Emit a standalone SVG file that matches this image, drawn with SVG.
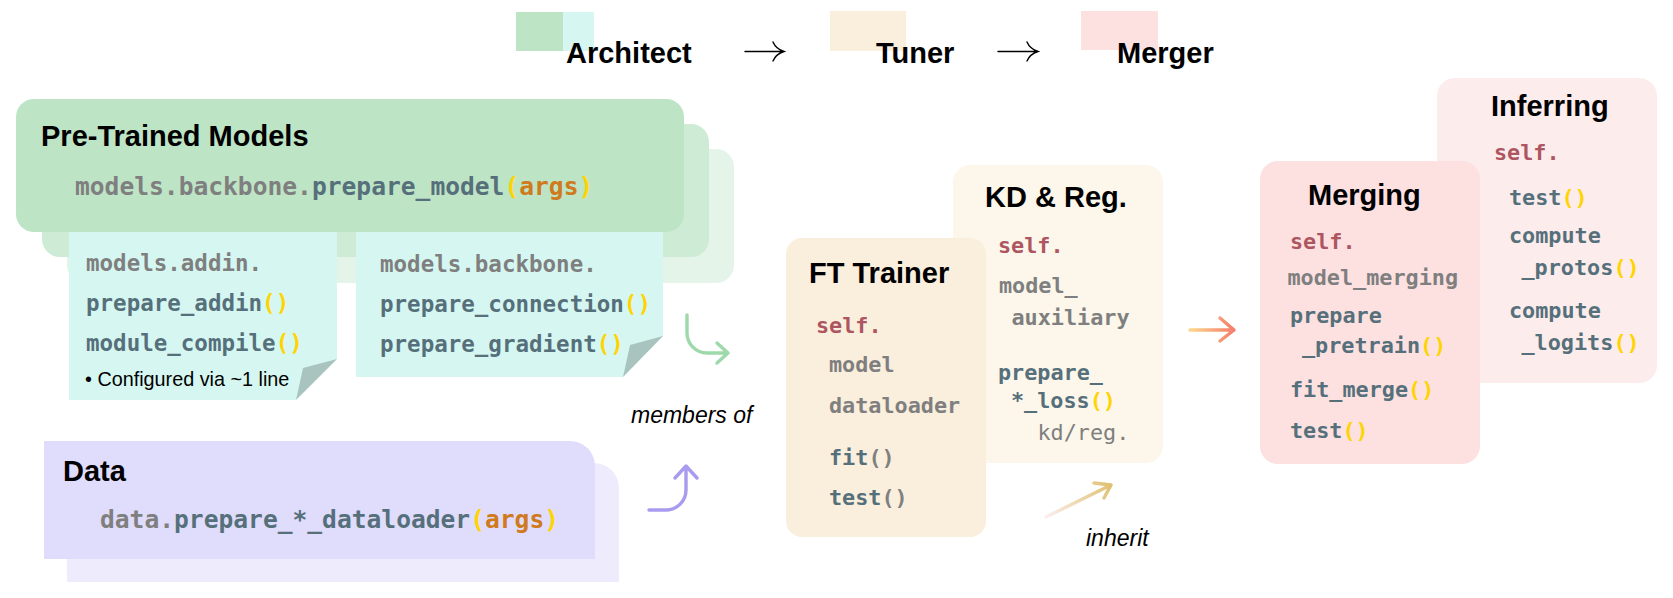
<svg xmlns="http://www.w3.org/2000/svg" width="1673" height="598" viewBox="0 0 1673 598">
<defs>
<style>
.h{font-family:"Liberation Sans",Arial,sans-serif;font-weight:bold;font-size:29px;fill:#000}
.c{font-family:"DejaVu Sans Mono","Liberation Mono",monospace;font-weight:bold}
.c1{font-size:24.6px}
.c2{font-size:22.5px}
.c3{font-size:21.8px}
.n{font-weight:normal}
.g{fill:#7f7f7f}
.s{fill:#56707b}
.y{fill:#ffd400}
.o{fill:#d07a1e}
.r{fill:#ad5560}
.it{font-family:"Liberation Sans",Arial,sans-serif;font-style:italic;font-size:23px;fill:#000}
.note{font-family:"Liberation Sans",Arial,sans-serif;font-size:19.8px;fill:#000}
.arr{fill:none;stroke-width:3.4;stroke-linecap:round;stroke-linejoin:round}
.la{fill:none;stroke:#000;stroke-width:1.4;stroke-linecap:round}
</style>
<linearGradient id="gOr" gradientUnits="userSpaceOnUse" x1="1190" y1="0" x2="1236" y2="0"><stop offset="0" stop-color="#fdd68c"/><stop offset="1" stop-color="#f47a6a"/></linearGradient>
<linearGradient id="gIn" gradientUnits="userSpaceOnUse" x1="1046" y1="517" x2="1112" y2="484"><stop offset="0" stop-color="#fbeeec"/><stop offset="1" stop-color="#dfc070"/></linearGradient>
</defs>
<rect width="1673" height="598" fill="#fff"/>

<g id="legend">
<rect x="516" y="12" width="47" height="39" fill="#bee4c6"/>
<rect x="563" y="12" width="31" height="39" fill="#d6f7f1"/>
<text class="h" x="566" y="63">Architect</text>
<path class="la" d="M745 51.5H783M773 42Q776 49 784 51.5Q776 54 773 61"/>
<rect x="830" y="11" width="76" height="40" fill="#faeedc"/>
<text class="h" x="876" y="63">Tuner</text>
<path class="la" d="M998 51.5H1037M1027 42Q1030 49 1038 51.5Q1030 54 1027 61"/>
<rect x="1081" y="11" width="77" height="39" fill="#fde1e1"/>
<text class="h" x="1117" y="63">Merger</text>
</g>

<g id="pretrained-layers">
<rect x="67" y="149" width="667" height="134" rx="18" fill="#e4f4e9"/>
<rect x="42" y="124" width="667" height="133" rx="18" fill="#cdebd5"/>
</g>

<g id="addin">
<path d="M69 200H337V359L296 400H69Z" fill="#d6f7f1"/>
<path d="M337 359L303 368L296 400Z" fill="#a9c4be"/>
<text class="c c2 g" x="86" y="271">models.addin.</text>
<text class="c c2" x="86" y="311"><tspan class="s">prepare_addin</tspan><tspan class="y">()</tspan></text>
<text class="c c2" x="86" y="351"><tspan class="s">module_compile</tspan><tspan class="y">()</tspan></text>
<text class="note" x="85" y="386">• Configured via ~1 line</text>
</g>

<g id="backbone-fns">
<path d="M356 200H663V336L623 377H356Z" fill="#d6f7f1"/>
<path d="M663 336L630 345L623 377Z" fill="#a9c4be"/>
<text class="c c2 g" x="380" y="272">models.backbone.</text>
<text class="c c2" x="380" y="312"><tspan class="s">prepare_connection</tspan><tspan class="y">()</tspan></text>
<text class="c c2" x="380" y="352"><tspan class="s">prepare_gradient</tspan><tspan class="y">()</tspan></text>
</g>

<g id="pretrained">
<rect x="16" y="99" width="668" height="133" rx="18" fill="#bee4c6"/>
<text class="h" x="41" y="146">Pre-Trained Models</text>
<text class="c c1" x="75" y="195"><tspan class="g">models.backbone.</tspan><tspan class="s">prepare_model</tspan><tspan class="y">(</tspan><tspan class="o">args</tspan><tspan class="y">)</tspan></text>
</g>

<g id="data">
<path d="M67 463H594A25 25 0 0 1 619 488V582H67Z" fill="#eeebfc"/>
<path d="M44 441H570A25 25 0 0 1 595 466V559H44Z" fill="#e0dcfb"/>
<text class="h" x="63" y="481">Data</text>
<text class="c c1" x="100" y="528"><tspan class="g">data.</tspan><tspan class="s">prepare_*_dataloader</tspan><tspan class="y">(</tspan><tspan class="o">args</tspan><tspan class="y">)</tspan></text>
</g>

<g id="kd-reg">
<rect x="953" y="165" width="210" height="298" rx="17" fill="#fcf7ea"/>
<text class="h" x="985" y="207">KD &amp; Reg.</text>
<text class="c c3 r" x="998" y="253">self.</text>
<text class="c c3 g" x="999" y="293">model_</text>
<text class="c c3 g" x="1011.5" y="325">auxiliary</text>
<text class="c c3 s" x="998" y="380">prepare_</text>
<text class="c c3" x="1011" y="408"><tspan class="s">*_loss</tspan><tspan class="y">()</tspan></text>
<text class="c c3 g n" x="1037.5" y="440">kd/reg.</text>
</g>

<g id="ft-trainer">
<rect x="786" y="238" width="200" height="299" rx="16" fill="#faeedc"/>
<text class="h" x="809" y="283">FT Trainer</text>
<text class="c c3 r" x="816" y="333">self.</text>
<text class="c c3 g" x="829" y="372">model</text>
<text class="c c3 g" x="829" y="413">dataloader</text>
<text class="c c3" x="829" y="465"><tspan class="s">fit</tspan><tspan class="g">()</tspan></text>
<text class="c c3" x="829" y="505"><tspan class="s">test</tspan><tspan class="g">()</tspan></text>
</g>

<g id="inferring">
<rect x="1437" y="78" width="220" height="305" rx="18" fill="#fcecec"/>
<text class="h" x="1491" y="116">Inferring</text>
<text class="c c3 r" x="1494" y="160">self.</text>
<text class="c c3" x="1509" y="205"><tspan class="s">test</tspan><tspan class="y">()</tspan></text>
<text class="c c3 s" x="1509" y="243">compute</text>
<text class="c c3" x="1521.5" y="275"><tspan class="s">_protos</tspan><tspan class="y">()</tspan></text>
<text class="c c3 s" x="1509" y="318">compute</text>
<text class="c c3" x="1521.5" y="350"><tspan class="s">_logits</tspan><tspan class="y">()</tspan></text>
</g>

<g id="merging">
<rect x="1260" y="161" width="220" height="303" rx="18" fill="#fde1e1"/>
<text class="h" x="1308" y="205">Merging</text>
<text class="c c3 r" x="1290" y="249">self.</text>
<text class="c c3 g" x="1287.5" y="285">model_merging</text>
<text class="c c3 s" x="1290" y="323">prepare</text>
<text class="c c3" x="1302" y="353"><tspan class="s">_pretrain</tspan><tspan class="y">()</tspan></text>
<text class="c c3" x="1290" y="397"><tspan class="s">fit_merge</tspan><tspan class="y">()</tspan></text>
<text class="c c3" x="1290" y="438"><tspan class="s">test</tspan><tspan class="y">()</tspan></text>
</g>

<g id="connectors">
<path class="arr" stroke="#9ed9ac" d="M687 315V333A20 20 0 0 0 707 353H727M717 343L728 353L717 363"/>
<path class="arr" stroke="#a99cf0" d="M649 510H666A20 20 0 0 0 686 490V467M675 478L686 466L697 478"/>
<path class="arr" stroke="url(#gOr)" d="M1190 330H1234M1220 318L1234 330L1220 341"/>
<path class="arr" stroke="url(#gIn)" d="M1046 517L1111 485M1094 483L1111 485L1104 498"/>
<text class="it" x="631" y="423">members of</text>
<text class="it" x="1086" y="546">inherit</text>
</g>
</svg>
